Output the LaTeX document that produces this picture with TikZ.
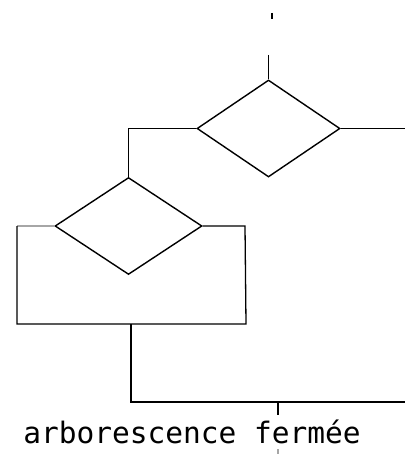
\documentclass[tikz,border=0pt]{standalone}
\usepackage{fontspec}
\newfontfamily\labelfont{DejaVu Sans Mono}
\usetikzlibrary{shapes.geometric}
\tikzset{
  test/.style={diamond, draw, line width=1.4pt, inner sep=0pt, aspect=1.5},
  wire/.style={line width=1.3pt},
  faint/.style={line width=1.1pt, draw=black!35},
}
\begin{document}
\begin{tikzpicture}[x=1pt,y=-1pt]
\useasboundingbox (0,0) rectangle (405,454);
% decisions
\node[test, minimum width=143pt, minimum height=97pt] (d1) at (268.5,128.5) {};
\node[test, minimum width=147pt, minimum height=97pt] (d2) at (128.5,226) {};
% entry
\coordinate (t0) at (272,13);
\coordinate (t1) at (272,19);
\coordinate (in) at (268.5,55);
\draw[wire] (t0) -- (t1);
\draw[wire] (in) -- (d1.north);
% right exit of d1
\coordinate (r1) at (405,128.5);
\draw[wire] (d1.east) -- (r1);
% left branch to d2
\draw[wire] (d1.west) -| (d2.north);
% loop around d2
\coordinate (la) at (17,226);
\coordinate (lb) at (17,324);
\coordinate (rb) at (246,324);
\coordinate (ra) at (245,226);
\draw[faint] (d2.west) -- (la);
\draw[wire] (la) -- (lb) -- (rb) -- (ra) -- (d2.east);
% join
\coordinate (j0) at (131,324);
\coordinate (j1) at (131,402);
\coordinate (j2) at (405,402);
\draw[wire] (j0) -- (j1) -- (j2);
\coordinate (k0) at (278,402);
\coordinate (k1) at (278,415);
\draw[wire] (k0) -- (k1);
\coordinate (m0) at (278,449);
\coordinate (m1) at (278,454);
\draw[faint] (m0) -- (m1);
% caption
\node[anchor=base, inner sep=0pt, font=\labelfont\fontsize{29.5}{32}\selectfont] (cap) at (192,443) {arborescence fermée};
\end{tikzpicture}
\end{document}
